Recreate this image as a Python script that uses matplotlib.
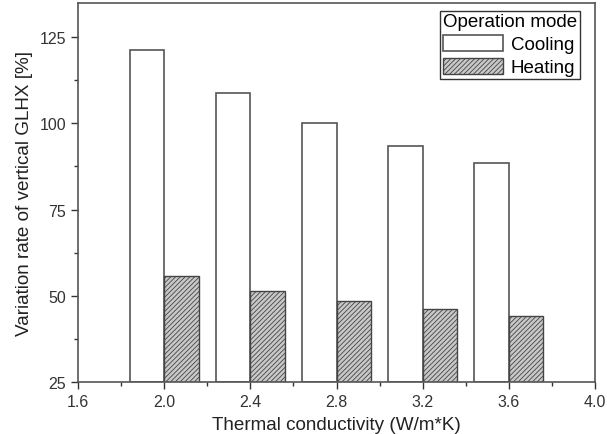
import matplotlib
matplotlib.use('Agg')
import matplotlib.pyplot as plt
from matplotlib.ticker import MultipleLocator

plt.rcParams['font.family'] = ['Liberation Sans', 'DejaVu Sans']
plt.rcParams['hatch.color'] = '#444444'
plt.rcParams['hatch.linewidth'] = 0.6

conductivity = [2.0, 2.4, 2.8, 3.2, 3.6]
cooling = [121.3, 108.9, 100.1, 93.4, 88.5]
heating = [55.8, 51.4, 48.6, 46.2, 44.2]

bar_w = 0.16

fig = plt.figure(figsize=(6.07, 4.35), dpi=100)
ax = fig.add_axes([0.1285, 0.1195, 0.852, 0.872])

ax.bar([c - bar_w / 2 for c in conductivity], [v - 25 for v in cooling], bar_w, bottom=25,
       facecolor='white', edgecolor='#555555', lw=1.2, label='Cooling')
ax.bar([c + bar_w / 2 for c in conductivity], [v - 25 for v in heating], bar_w, bottom=25,
       facecolor='#c8c8c8', edgecolor='#444444', lw=1.0, hatch='///////', label='Heating')

ax.set_xlim(1.6, 4.0)
ax.set_ylim(25, 135)
ax.xaxis.set_major_locator(MultipleLocator(0.4))
ax.xaxis.set_minor_locator(MultipleLocator(0.2))
ax.yaxis.set_major_locator(MultipleLocator(25))
ax.yaxis.set_minor_locator(MultipleLocator(12.5))
ax.xaxis.set_major_formatter(matplotlib.ticker.FormatStrFormatter('%.1f'))
ax.tick_params(which='major', direction='out', length=5, width=1, labelsize=11.5, colors='#333333')
ax.tick_params(which='minor', direction='out', length=3, width=1, colors='#333333')
for s in ax.spines.values():
    s.set_color('#555555')
    s.set_linewidth(1.2)

ax.set_xlabel('Thermal conductivity (W/m*K)', fontsize=13.6, color='#222222', labelpad=5)
ax.set_ylabel('Variation rate of vertical GLHX [%]', fontsize=13.6, color='#222222', labelpad=5)

leg = ax.legend(title='Operation mode', loc='upper right', bbox_to_anchor=(0.971, 0.979),
                fontsize=13.5, title_fontsize=13.5,
                fancybox=False, edgecolor='#333333', framealpha=1, borderpad=0.15,
                handlelength=3.2, handleheight=0.9, handletextpad=0.4, labelspacing=0.25,
                borderaxespad=0)
leg.get_frame().set_linewidth(1.0)
leg._legend_box.align = 'left'

fig.savefig('out.png', dpi=100, facecolor='white')
